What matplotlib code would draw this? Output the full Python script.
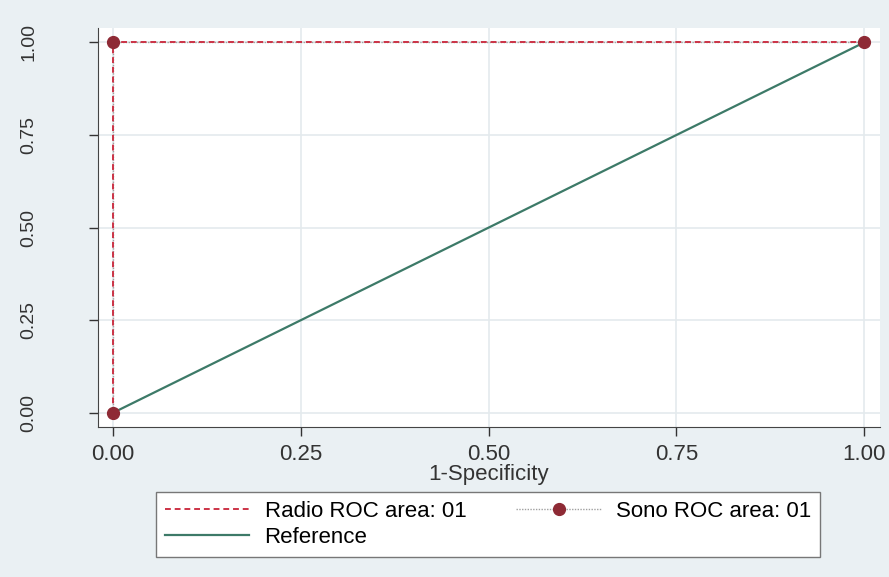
import matplotlib
matplotlib.use('Agg')
import matplotlib.pyplot as plt
from matplotlib.lines import Line2D

# ROC points
radio_x = [0.0, 0.0, 1.0]
radio_y = [0.0, 1.0, 1.0]
sono_x = [0.0, 0.0, 1.0]
sono_y = [0.0, 1.0, 1.0]
ref_x = [0.0, 1.0]
ref_y = [0.0, 1.0]
ticks = [0.0, 0.25, 0.5, 0.75, 1.0]
tick_labels = ['0.00', '0.25', '0.50', '0.75', '1.00']

bg = '#eaf0f3'
red = '#cc3346'
dot_red = '#8e2a35'
green = '#3d7a68'
plt.rcParams['font.family'] = ['Liberation Sans', 'DejaVu Sans']

fig = plt.figure(figsize=(8.89, 5.77), dpi=100, facecolor=bg)
ax = fig.add_axes([0.110, 0.260, 0.880, 0.691])
ax.set_facecolor('white')

# sono dotted line under the radio dashes, markers on top
ax.plot(sono_x, sono_y, color='#a0a0a0', ls=(0, (1, 1)), lw=1.0, zorder=2.5)
ax.plot(ref_x, ref_y, color=green, lw=1.6, zorder=2)
ax.plot(radio_x, radio_y, color=red, ls=(0, (3, 2)), lw=1.4, zorder=3)
ax.plot(sono_x, sono_y, ls='none', marker='o', ms=8.5, mfc=dot_red,
        mec=dot_red, zorder=4)

ax.set_xlim(-0.02, 1.021)
ax.set_ylim(-0.038, 1.038)
ax.set_xticks(ticks)
ax.set_xticklabels(tick_labels)
ax.set_yticks(ticks)
ax.set_yticklabels(tick_labels, rotation=90, va='center')
ax.tick_params(colors='#333333', length=6.5, width=1)
ax.tick_params(axis='y', pad=37, labelsize=14)
ax.tick_params(axis='x', pad=6, labelsize=16)
ax.grid(True, color='#e4eaed', lw=1.2)
ax.set_axisbelow(True)
for s in ['top', 'right']:
    ax.spines[s].set_visible(False)
for s in ['left', 'bottom']:
    ax.spines[s].set_color('#444444')
ax.set_xlabel('1-Specificity', fontsize=16, color='#333333', labelpad=-1)

# legend, column-wise order: Radio, Reference | Sono
h_radio = Line2D([], [], color=red, ls=(0, (3, 2)), lw=1.4)
h_ref = Line2D([], [], color=green, lw=1.6)
h_sono = Line2D([], [], color='#a0a0a0', ls=(0, (1, 1)), lw=1.0,
                marker='o', ms=8.5, mfc=dot_red, mec=dot_red)
leg = fig.legend([h_radio, h_ref, h_sono],
                 ['Radio ROC area: 01', 'Reference', 'Sono ROC area: 01'],
                 loc='center', ncol=2, bbox_to_anchor=(0.549, 0.091),
                 fontsize=16, frameon=True, fancybox=False,
                 edgecolor='#777777', facecolor='white', framealpha=1,
                 handlelength=3.8, handletextpad=0.68, columnspacing=2.25,
                 borderpad=0.42, labelspacing=0.2, borderaxespad=0)
leg.get_frame().set_linewidth(1.0)

fig.savefig('out.png', dpi=100, facecolor=bg)
